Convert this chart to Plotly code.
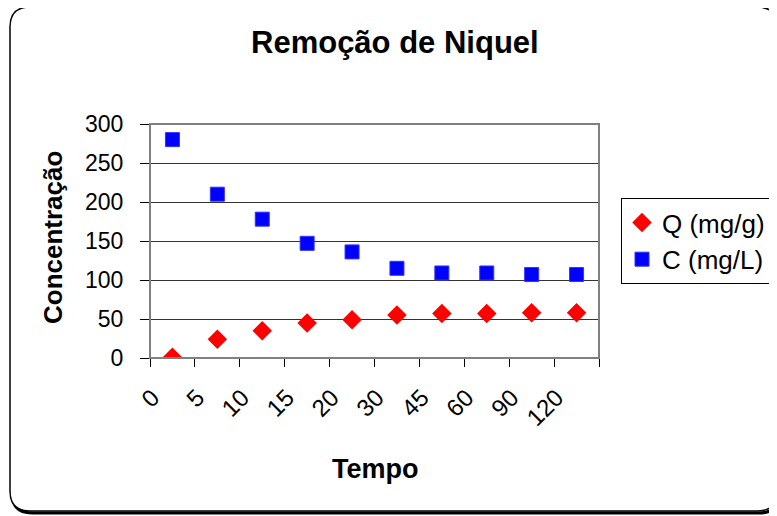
import plotly.graph_objects as go

tempo = ["0", "5", "10", "15", "20", "30", "45", "60", "90", "120"]
q_mg_g = [1, 24, 35, 45, 49, 55, 57, 57, 58, 58]
c_mg_l = [280, 210, 178, 147, 136, 115, 109, 109, 107, 107]

OFF = 8  # page body margin
W, H = 777 - OFF, 516 - OFF
# plot area in page coordinates: x 150..599, y 124..358
PL, PR, PT, PB = 150, 599, 124, 358
L, T = PL - OFF, PT - OFF
R, B = W - (PR - OFF), H - (PB - OFF)
PW, PH = PR - PL, PB - PT


def px(x):
    return (x - PL) / PW


def py(y):
    return (PB - y) / PH


def rounded_path(x0, y0, x1, y1, r):
    return (
        f"M {px(x0 + r)} {py(y0)} L {px(x1 - r)} {py(y0)} "
        f"Q {px(x1)} {py(y0)} {px(x1)} {py(y0 + r)} "
        f"L {px(x1)} {py(y1 - r)} Q {px(x1)} {py(y1)} {px(x1 - r)} {py(y1)} "
        f"L {px(x0 + r)} {py(y1)} Q {px(x0)} {py(y1)} {px(x0)} {py(y1 - r)} "
        f"L {px(x0)} {py(y0 + r)} Q {px(x0)} {py(y0)} {px(x0 + r)} {py(y0)} Z"
    )


fig = go.Figure()
fig.add_trace(go.Scatter(
    x=tempo, y=q_mg_g, mode="markers", name="Q (mg/g)",
    marker=dict(symbol="diamond", size=15, color="#FF0000"),
))
fig.add_trace(go.Scatter(
    x=tempo, y=c_mg_l, mode="markers", name="C (mg/L)",
    marker=dict(symbol="square", size=14, color="#0000FF",
                line=dict(color="#3333FF", width=1)),
))

shapes = [
    dict(type="path", xref="paper", yref="paper",
         path=rounded_path(12, 9, 779, 513, 20),
         line=dict(color="black", width=3), layer="below"),
    dict(type="path", xref="paper", yref="paper",
         path=rounded_path(10, 7, 777, 511, 20),
         line=dict(color="black", width=1.5), fillcolor="white", layer="below"),
    dict(type="rect", xref="paper", yref="paper", x0=0, y0=0, x1=1, y1=1,
         line=dict(color="#808080", width=2), layer="above"),
]

annotations = [
    dict(text="<b>Remoção de Niquel</b>", xref="paper", yref="paper",
         x=px(395), y=py(43), xanchor="center", yanchor="middle",
         showarrow=False, font=dict(size=31)),
    dict(text="<b>Tempo</b>", xref="paper", yref="paper",
         x=px(375), y=py(469), xanchor="center", yanchor="middle",
         showarrow=False, font=dict(size=27)),
    dict(text="<b>Concentração</b>", xref="paper", yref="paper",
         x=px(53), y=py(238), xanchor="center", yanchor="middle",
         textangle=-90, showarrow=False, font=dict(size=26)),
]

fig.update_layout(
    width=W, height=H,
    margin=dict(l=L, r=R, t=T, b=B, autoexpand=False),
    paper_bgcolor="white",
    plot_bgcolor="#C0C0C0",
    font=dict(family="Liberation Sans, Arial, sans-serif", color="black", size=23),
    showlegend=True,
    legend=dict(x=px(621), y=py(198), xanchor="left", yanchor="top",
                bordercolor="black", borderwidth=1, bgcolor="white",
                font=dict(size=26), itemwidth=30, tracegroupgap=0),
    shapes=shapes,
    annotations=annotations,
)
fig.update_xaxes(
    type="category", range=[-0.5, 9.5],
    tickangle=-45, ticks="outside", tickson="boundaries", ticklen=8,
    tickcolor="black", showline=True, linecolor="black", linewidth=1,
    showgrid=False, tickfont=dict(size=24), ticklabelshift=-20,
    ticklabelstandoff=15,
)
fig.update_yaxes(
    range=[0, 300], dtick=50,
    ticks="outside", ticklen=9, tickcolor="black",
    showline=True, linecolor="black", linewidth=1,
    showgrid=True, gridcolor="#333333", gridwidth=1,
    zeroline=False, tickfont=dict(size=23), ticklabelstandoff=12,
)

fig.write_html("out.html")
